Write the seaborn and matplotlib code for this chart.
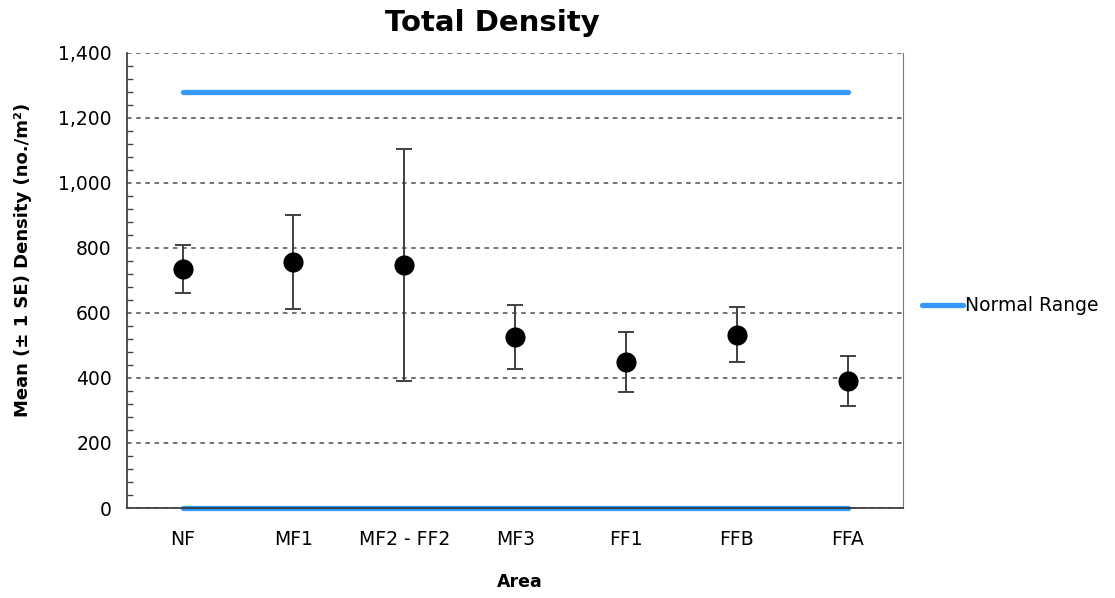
import numpy as np
import pandas as pd
import matplotlib
matplotlib.use('Agg')
import matplotlib.pyplot as plt
import seaborn as sns
from matplotlib.ticker import MultipleLocator, FuncFormatter
from matplotlib.lines import Line2D

areas = ['NF', 'MF1', 'MF2 - FF2', 'MF3', 'FF1', 'FFB', 'FFA']
mean_density = [735, 757, 748, 526, 449, 533, 391]
se_density = [75, 146, 357, 98, 91, 84, 78]
normal_low = 0
normal_high = 1280

sns.set_style('white')
plt.rcParams['font.family'] = ['DejaVu Sans']
plt.rcParams['text.color'] = 'black'
plt.rcParams['axes.labelcolor'] = 'black'

df = pd.DataFrame({'area': areas, 'mean': mean_density, 'se': se_density})
df['x'] = np.arange(len(areas))

rng = pd.DataFrame({
    'x': [0, len(areas) - 1, 0, len(areas) - 1],
    'y': [normal_high, normal_high, normal_low, normal_low],
    'bound': ['high', 'high', 'low', 'low'],
})

fig = plt.figure(figsize=(11.15, 5.98), dpi=100)
ax = fig.add_axes([0.114, 0.1505, 0.696, 0.7609])

blue = '#3399ff'
sns.lineplot(data=rng, x='x', y='y', units='bound', estimator=None, color=blue,
             linewidth=3.8, solid_capstyle='round', ax=ax, zorder=2, clip_on=False)
ax.errorbar(df['x'], df['mean'], yerr=df['se'], fmt='none', ecolor='#404040',
            elinewidth=1.4, capsize=5.5, capthick=1.4, zorder=3)
sns.scatterplot(data=df, x='x', y='mean', color='black', s=210, edgecolor='black',
                linewidth=0, ax=ax, zorder=4, legend=False)

ax.set_xlim(-0.5, len(areas) - 0.5)
ax.set_ylim(0, 1400)
ax.yaxis.set_major_locator(MultipleLocator(200))
ax.yaxis.set_minor_locator(MultipleLocator(40))
ax.yaxis.set_major_formatter(FuncFormatter(lambda v, p: f'{int(v):,}'))
ax.yaxis.grid(True, which='major', linestyle=(0, (3, 3)), color='#4d4d4d', linewidth=1.1)
ax.set_axisbelow(True)

# category labels at centres, tick marks at bin edges
ax.set_xticks(np.arange(len(areas)))
ax.set_xticklabels(areas, fontsize=13.5)
ax.set_xticks(np.arange(len(areas)) + 0.5, minor=True)
ax.tick_params(axis='x', which='major', length=0, pad=16, labelcolor='black')
ax.tick_params(axis='x', which='minor', length=6, width=1, color='#444444', direction='out')
ax.tick_params(axis='y', which='major', length=7, width=1, color='#444444', direction='out',
               labelsize=13.5, pad=4, labelcolor='black')
ax.tick_params(axis='y', which='minor', left=True, length=4, width=1, color='#444444', direction='in')

for s in ['left', 'bottom']:
    ax.spines[s].set_color('#333333')
    ax.spines[s].set_linewidth(1.2)
ax.spines['right'].set_color('#777777')
ax.spines['top'].set_visible(False)

fig.text(0.442, 0.961, 'Total Density', fontsize=21, fontweight='bold', ha='center', va='center')
ax.set_xlabel('Area', fontsize=12.5, fontweight='bold')
ax.xaxis.set_label_coords(0.506, -0.143)
ax.set_ylabel('Mean (± 1 SE) Density (no./m²)', fontsize=13, fontweight='bold')
ax.yaxis.set_label_coords(-0.123, 0.545)

handle = Line2D([], [], color=blue, linewidth=3.8, solid_capstyle='round')
ax.legend([handle], ['Normal Range'], loc='center left', bbox_to_anchor=(1.0, 0.444),
          frameon=False, fontsize=13.5, handlelength=2.2, handletextpad=0.1, borderaxespad=0.6)

fig.savefig('out.png', dpi=100)
